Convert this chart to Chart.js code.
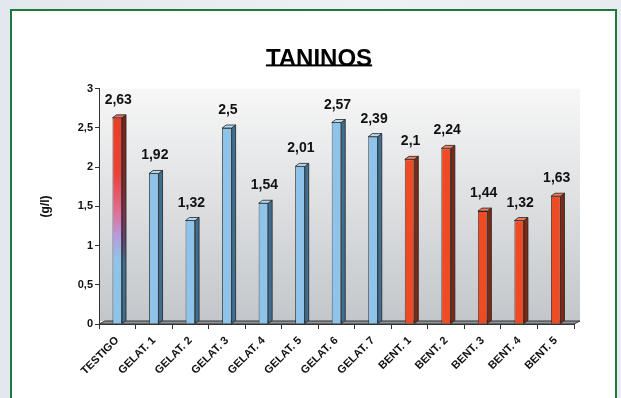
<!DOCTYPE html>
<html lang="es">
<head>
    <meta charset="UTF-8">
    <title>Taninos</title>
    <style>
        body { margin: 0; width: 621px; height: 398px; overflow: hidden;
               background: linear-gradient(90deg, #e3e8ee, #eef1f4 60%, #e8ecf0); }
        #panel { position: absolute; left: 10px; top: 9px; width: 603px; height: 400px;
                 border: 2px solid #1d7a3c; background: #fff; }
        #wrap { position: absolute; left: 0; top: 0; width: 621px; height: 398px; }
    </style>
</head>
<body>
    <div id="panel"></div>
    <div id="wrap"><canvas id="tanChart" width="621" height="398"></canvas></div>
    <script src="https://cdn.jsdelivr.net/npm/chart.js"></script>
    <script>
        const categories = ['TESTIGO', 'GELAT. 1', 'GELAT. 2', 'GELAT. 3', 'GELAT. 4', 'GELAT. 5', 'GELAT. 6',
                            'GELAT. 7', 'BENT. 1', 'BENT. 2', 'BENT. 3', 'BENT. 4', 'BENT. 5'];
        const taninos = [2.63, 1.92, 1.32, 2.5, 1.54, 2.01, 2.57, 2.39, 2.1, 2.24, 1.44, 1.32, 1.63];
        // tipo de tratamiento: t = testigo, g = gelatina, b = bentonita
        const groups = ['t', 'g', 'g', 'g', 'g', 'g', 'g', 'g', 'b', 'b', 'b', 'b', 'b'];

        const front = { g: '#8ec3ea', b: '#ee4a24' };
        const side = { g: '#3f6f90', b: '#7c2a16' };
        const topc = { g: '#b7d9f3', b: '#f47a5c' };
        const D = 4, DY = 3;   // profundidad 3D
        const FONT = '"Liberation Sans", Arial, sans-serif';

        const comma = v => String(v).replace('.', ',');

        function testigoGrad(ctx, area, dark) {
            const g = ctx.createLinearGradient(0, area.top, 0, area.bottom);
            if (dark) {
                g.addColorStop(0.1, '#7a2218');
                g.addColorStop(0.4, '#7a2a2a');
                g.addColorStop(0.55, '#7a3450');
                g.addColorStop(0.65, '#5a4870');
                g.addColorStop(0.74, '#3f6f90');
                g.addColorStop(1, '#3f6f90');
            } else {
                g.addColorStop(0.1, '#ec3e26');
                g.addColorStop(0.36, '#ea4238');
                g.addColorStop(0.52, '#e26c92');
                g.addColorStop(0.62, '#bc98dc');
                g.addColorStop(0.72, '#8ec3ea');
                g.addColorStop(1, '#8ec3ea');
            }
            return g;
        }

        const wall = {
            id: 'wall',
            afterLayout(chart) {
                // el título va centrado sobre el panel, no sobre el área con márgenes
                chart.titleBlock.left += 15;
                chart.titleBlock.right += 15;
            },
            beforeDraw(chart) {
                const { ctx, chartArea: a } = chart;
                ctx.save();
                const g = ctx.createLinearGradient(0, a.top, 0, a.bottom);
                g.addColorStop(0, '#f7f7f7');
                g.addColorStop(1, '#c2c6ca');
                ctx.fillStyle = g;
                ctx.fillRect(a.left, a.top, a.right - a.left + D + 2, a.bottom - a.top - DY);
                // suelo
                ctx.fillStyle = '#8f959b';
                ctx.beginPath();
                ctx.moveTo(a.left, a.bottom);
                ctx.lineTo(a.left + D + 2, a.bottom - DY);
                ctx.lineTo(a.right + D + 2, a.bottom - DY);
                ctx.lineTo(a.right, a.bottom);
                ctx.closePath();
                ctx.fill();
                ctx.strokeStyle = '#333';
                ctx.lineWidth = 1;
                ctx.stroke();
                ctx.restore();
            }
        };

        const bars3d = {
            id: 'bars3d',
            afterDatasetsDraw(chart) {
                const { ctx, chartArea } = chart;
                const meta = chart.getDatasetMeta(0);
                ctx.save();
                ctx.lineWidth = 0.8;
                ctx.strokeStyle = '#222';
                meta.data.forEach((bar, i) => {
                    const r = bar.x + bar.width / 2, l = bar.x - bar.width / 2;
                    const k = groups[i];
                    // lado
                    ctx.fillStyle = k === 't' ? testigoGrad(ctx, chartArea, true) : side[k];
                    ctx.beginPath();
                    ctx.moveTo(r, bar.y);
                    ctx.lineTo(r + D, bar.y - DY);
                    ctx.lineTo(r + D, bar.base - DY);
                    ctx.lineTo(r, bar.base);
                    ctx.closePath();
                    ctx.fill(); ctx.stroke();
                    // tapa
                    ctx.fillStyle = k === 't' ? '#f06a55' : topc[k];
                    ctx.beginPath();
                    ctx.moveTo(l, bar.y);
                    ctx.lineTo(l + D, bar.y - DY);
                    ctx.lineTo(r + D, bar.y - DY);
                    ctx.lineTo(r, bar.y);
                    ctx.closePath();
                    ctx.fill(); ctx.stroke();
                    // valor
                    ctx.fillStyle = '#111';
                    ctx.font = 'bold 14px ' + FONT;
                    ctx.textAlign = 'center';
                    ctx.textBaseline = 'alphabetic';
                    ctx.fillText(comma(taninos[i]), bar.x + 1, bar.y - 14);
                });
                ctx.restore();
            }
        };

        const underline = {
            id: 'underline',
            afterDraw(chart) {
                const t = chart.titleBlock;
                if (!t) return;
                const { ctx } = chart;
                ctx.save();
                ctx.font = 'bold 24px ' + FONT;
                const w = ctx.measureText('TANINOS').width;
                const cx = (t.left + t.right) / 2;
                const y = t.top + t.height / 2 + 11;
                ctx.fillStyle = '#000';
                ctx.fillRect(cx - w / 2, y, w, 2);
                ctx.restore();
            }
        };

        const ctx = document.getElementById('tanChart').getContext('2d');
        new Chart(ctx, {
            type: 'bar',
            data: {
                labels: categories,
                datasets: [{
                    data: taninos,
                    backgroundColor: c => {
                        const k = groups[c.dataIndex];
                        if (k === 't') {
                            const a = c.chart.chartArea;
                            return a ? testigoGrad(c.chart.ctx, a, false) : '#ec3e26';
                        }
                        return front[k];
                    },
                    borderColor: '#222',
                    borderWidth: 0.8,
                    categoryPercentage: 1,
                    barPercentage: 0.26
                }]
            },
            options: {
                responsive: false,
                animation: false,
                devicePixelRatio: 1,
                layout: { padding: { top: 18, left: 34, right: 47, bottom: 0 } },
                plugins: {
                    legend: { display: false },
                    tooltip: { enabled: false },
                    title: {
                        display: true,
                        text: 'TANINOS',
                        color: '#000',
                        font: { family: FONT, size: 24, weight: 'bold' },
                        padding: { top: 27, bottom: 15 }
                    }
                },
                scales: {
                    x: {
                        afterFit: s => { s.height = 74; },
                        grid: { display: true, drawOnChartArea: false, offset: true, color: '#333', tickLength: 5 },
                        border: { color: '#333' },
                        ticks: {
                            maxRotation: 45, minRotation: 45, padding: 5,
                            color: '#111',
                            font: { family: FONT, size: 11, weight: 'bold' }
                        }
                    },
                    y: {
                        min: 0, max: 3,
                        afterFit: s => { s.width = 65; },
                        grid: { display: true, drawOnChartArea: false, color: '#333', tickLength: 4 },
                        border: { color: '#333' },
                        ticks: {
                            stepSize: 0.5, padding: 2, color: '#111',
                            callback: v => comma(v),
                            font: { family: FONT, size: 11, weight: 'bold' }
                        },
                        title: {
                            display: true, text: '(g/l)', color: '#111',
                            font: { family: FONT, size: 12, weight: 'bold' }
                        }
                    }
                }
            },
            plugins: [wall, bars3d, underline]
        });
    </script>
</body>
</html>
